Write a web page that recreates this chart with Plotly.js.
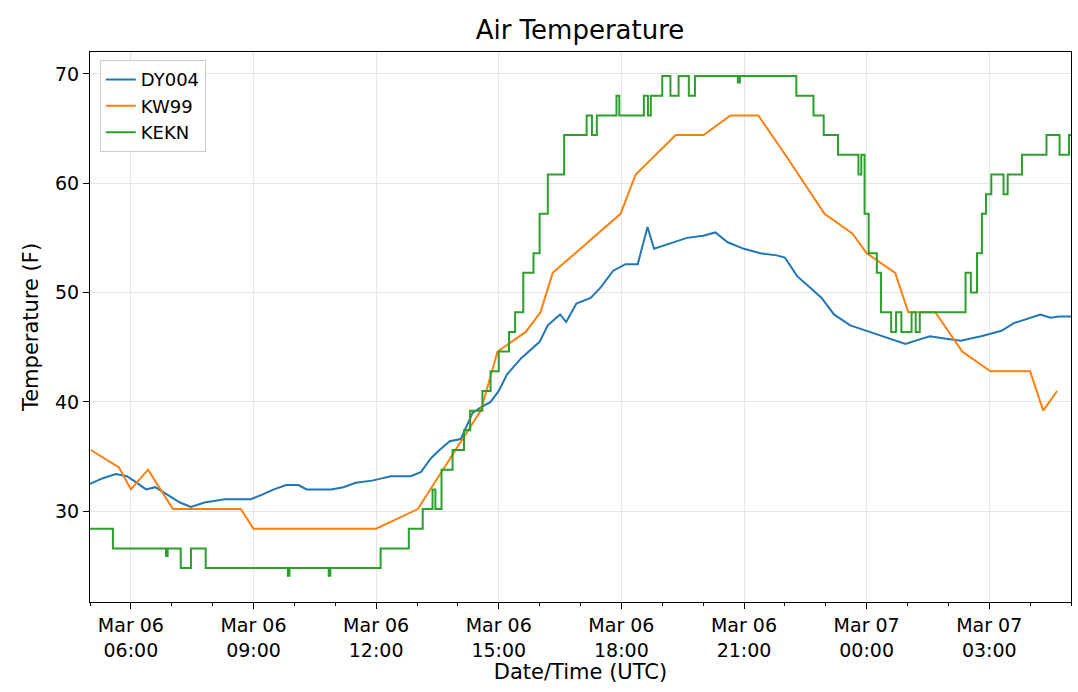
<!DOCTYPE html>
<html>
<head>
<meta charset="utf-8">
<script src="https://cdn.plot.ly/plotly-3.0.1.min.js"></script>
<style>body{margin:0;background:#fff}</style>
</head>
<body>
<div id="chart" style="width:1078px;height:692px"></div>
<script>
// hours since Mar 06 00:00 (UTC)
const dyHours = [5.0,5.3,5.63,5.9,6.15,6.37,6.6,6.9,7.2,7.47,7.8,8.3,8.93,9.2,9.5,9.8,10.1,10.3,10.9,11.2,11.5,11.9,12.36,12.85,13.1,13.33,13.55,13.8,14.07,14.36,14.56,14.8,15.0,15.2,15.55,16.0,16.2,16.5,16.65,16.9,17.25,17.5,17.8,18.1,18.4,18.64,18.8,19.2,19.6,20.0,20.3,20.6,21.0,21.4,21.8,22.0,22.3,22.6,22.9,23.2,23.6,24.0,24.5,24.95,25.2,25.55,25.9,26.3,26.8,27.3,27.6,28.0,28.25,28.5,28.7,29.0];
const dyTemp  = [32.5,33,33.4,33.2,32.6,32,32.2,31.5,30.8,30.4,30.8,31.1,31.1,31.5,32,32.4,32.4,32,32,32.2,32.6,32.8,33.2,33.2,33.6,34.8,35.6,36.4,36.6,39,39.5,40,41,42.5,44,45.5,47,48,47.3,49,49.5,50.5,52,52.6,52.6,56,54,54.5,55,55.2,55.5,54.6,54,53.6,53.4,53.2,51.5,50.5,49.5,48,47,46.5,45.9,45.3,45.6,46,45.8,45.6,46,46.5,47.2,47.7,48,47.7,47.8,47.8];

const kwHours = [5.02,5.71,6.0,6.42,7.03,8.69,9.0,12.0,13.02,13.95,14.56,14.97,15.66,16.02,16.32,17.98,18.35,19.33,20.01,20.67,21.35,22.01,22.97,23.65,24.0,24.7,25.02,25.68,26.34,27.03,28.0,28.32,28.66];
const kwTemp  = [35.6,34,32,33.8,30.2,30.2,28.4,28.4,30.2,35.6,39.2,44.6,46.4,48.2,51.8,57.2,60.8,64.4,64.4,66.2,66.2,62.6,57.2,55.4,53.6,51.8,48.2,48.2,44.6,42.8,42.8,39.2,41];

const keHours = [5.0,5.56,6.86,6.9,7.22,7.47,7.83,9.84,9.88,10.84,10.88,12.11,12.8,13.14,13.38,13.45,13.6,13.87,14.15,14.3,14.6,14.8,15.0,15.25,15.4,15.6,15.85,16.0,16.2,16.6,17.15,17.28,17.4,17.88,17.95,18.55,18.65,18.72,19.0,19.2,19.4,19.65,19.8,20.85,20.9,22.28,22.7,22.95,23.3,23.8,23.87,23.95,24.05,24.25,24.35,24.6,24.72,24.85,25.1,25.2,25.3,26.42,26.55,26.7,26.82,26.92,27.05,27.35,27.45,27.8,28.4,28.72,28.95,29.0];
const keTemp  = [28.4,26.6,25.9,26.6,24.8,26.6,24.8,24.1,24.8,24.1,24.8,26.6,28.4,30.2,32,30.2,33.8,35.6,37.4,39.2,41,42.8,44.6,46.4,48.2,51.8,53.6,57.2,60.8,64.4,66.2,64.4,66.2,68,66.2,68,66.2,68,69.8,68,69.8,68,69.8,69.2,69.8,68,66.2,64.4,62.6,60.8,62.6,57.2,53.6,51.8,48.2,46.4,48.2,46.4,48.2,46.4,48.2,51.8,50,53.6,57.2,59,60.8,59,60.8,62.6,64.4,62.6,64.4,64.4];

const tickHours = [6,9,12,15,18,21,24,27];
const tickLabels = ['Mar 06<br>06:00','Mar 06<br>09:00','Mar 06<br>12:00','Mar 06<br>15:00','Mar 06<br>18:00','Mar 06<br>21:00','Mar 07<br>00:00','Mar 07<br>03:00'];

function toDate(h) {
  const t = Date.UTC(2020, 2, 6) + h * 3600000;
  return new Date(t).toISOString().slice(0, 19).replace('T', ' ');
}

const font = { family: 'DejaVu Sans', color: '#000' };
const traces = [
  { name: 'DY004', x: dyHours.map(toDate), y: dyTemp, mode: 'lines', line: { color: '#1f77b4', width: 2 } },
  { name: 'KW99', x: kwHours.map(toDate), y: kwTemp, mode: 'lines', line: { color: '#ff7f0e', width: 2 } },
  { name: 'KEKN', x: keHours.map(toDate), y: keTemp, mode: 'lines', line: { color: '#2ca02c', width: 2, shape: 'hv' } }
];

const layout = {
  width: 1078, height: 692,
  margin: { l: 90, r: 7, t: 52, b: 90 },
  paper_bgcolor: '#fff', plot_bgcolor: '#fff',
  font: { ...font, size: 18 },
  title: { text: 'Air Temperature', font: { ...font, size: 26 }, x: 0.538, y: 0.97, yanchor: 'top' },
  showlegend: true,
  legend: { x: 0.01, y: 0.985, xanchor: 'left', yanchor: 'top', bordercolor: '#ccc', borderwidth: 1, font: { ...font, size: 18 }, bgcolor: 'rgba(255,255,255,0.8)' },
  xaxis: {
    type: 'date', range: [toDate(5.0), toDate(29.0)],
    tickvals: tickHours.map(toDate), ticktext: tickLabels,
    ticks: 'outside', ticklen: 6, tickcolor: '#000',
    showgrid: true, gridcolor: '#e6e6e6',
    minor: { dtick: 3600000, ticks: 'outside', ticklen: 3, tickcolor: '#000', showgrid: false },
    showline: true, linecolor: '#000', mirror: true, zeroline: false,
    tickfont: { ...font, size: 19 },
    title: { text: 'Date/Time (UTC)', font: { ...font, size: 21 }, standoff: 4 }
  },
  yaxis: {
    range: [21.7, 72], tickvals: [30, 40, 50, 60, 70],
    ticks: 'outside', ticklen: 6, tickcolor: '#000',
    showgrid: true, gridcolor: '#e6e6e6',
    showline: true, linecolor: '#000', mirror: true, zeroline: false,
    tickfont: { ...font, size: 19 },
    title: { text: 'Temperature (F)', font: { ...font, size: 21 }, standoff: 10 }
  }
};

Plotly.newPlot('chart', traces, layout, { displayModeBar: false, staticPlot: true });
</script>
</body>
</html>
